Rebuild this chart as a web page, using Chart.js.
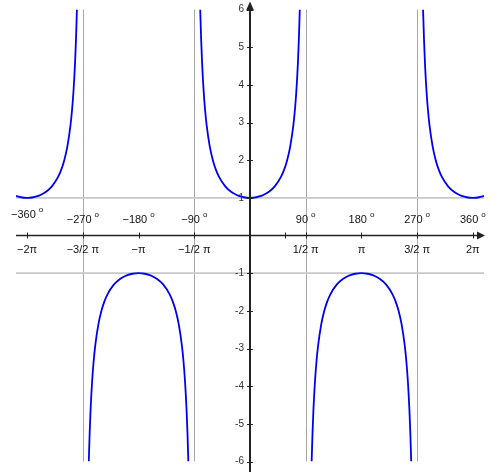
<!DOCTYPE html>
<html>
<head>
<meta charset="utf-8">
<script src="https://cdn.jsdelivr.net/npm/chart.js@4.4.1/dist/chart.umd.min.js"></script>
<style>
  html, body { margin: 0; padding: 0; background: #fff; }
</style>
</head>
<body>
<canvas id="chart" width="500" height="472"></canvas>
<script>
// Etiquetas del eje x (en grados y en múltiplos de pi)
const tickDegrees = [-360, -270, -180, -90, 90, 180, 270, 360];
const degreeLabels = ['−360', '−270', '−180', '−90', '90', '180', '270', '360'];
const piLabels = ['−2π', '−3/2 π', '−π', '−1/2 π', '1/2 π', 'π', '3/2 π', '2π'];
const radianTicks = [57.3];
const yTicks = [6, 5, 4, 3, 2, 1, -1, -2, -3, -4, -5, -6];
const asymptotes = [-270, -90, 90, 270];
const levelLines = [1, -1];

// Media rama de la secante: distancia al centro (grados) -> valor
const branchOffsets = [0, 10, 18, 20, 30, 40, 50, 55, 60, 65, 70, 72.5, 75, 77.5, 79, 80.41];
const branchValues = [1, 1.0154, 1.0515, 1.0642, 1.1547, 1.3054, 1.5557, 1.7434, 2, 2.3662, 2.9238, 3.3255, 3.8637, 4.6202, 5.2408, 6];
const branchCenters = [-360, -180, 0, 180, 360];
const branchSigns = [1, -1, 1, -1, 1];
const xLimit = 378;

// Construir cada rama a partir de los valores leídos
const datasets = branchCenters.map(function(c, i) {
    const pts = [];
    for (let k = branchOffsets.length - 1; k >= 0; k--) {
        if (c - branchOffsets[k] < -xLimit - 0.01) continue;
        pts.push({ x: c - branchOffsets[k], y: branchSigns[i] * branchValues[k] });
    }
    for (let k = 1; k < branchOffsets.length; k++) {
        if (c + branchOffsets[k] > xLimit + 0.01) continue;
        pts.push({ x: c + branchOffsets[k], y: branchSigns[i] * branchValues[k] });
    }
    return {
        data: pts,
        borderColor: '#0000ee',
        borderWidth: 1.8,
        pointRadius: 0,
        cubicInterpolationMode: 'monotone',
        fill: false
    };
});

const axesPlugin = {
    id: 'ejes',
    beforeDatasetsDraw(chart) {
        const ctx = chart.ctx, a = chart.chartArea;
        const xs = chart.scales.x, ys = chart.scales.y;
        ctx.save();
        ctx.strokeStyle = '#a8a8a8';
        ctx.lineWidth = 1;
        asymptotes.forEach(function(d) {
            const px = Math.round(xs.getPixelForValue(d)) + 0.5;
            ctx.beginPath(); ctx.moveTo(px, a.top); ctx.lineTo(px, a.bottom); ctx.stroke();
        });
        ctx.strokeStyle = '#c8c8c8';
        ctx.lineWidth = 1.6;
        levelLines.forEach(function(v) {
            const py = ys.getPixelForValue(v);
            ctx.beginPath(); ctx.moveTo(a.left, py); ctx.lineTo(a.right, py); ctx.stroke();
        });
        ctx.restore();
    },
    afterDatasetsDraw(chart) {
        const ctx = chart.ctx, a = chart.chartArea;
        const xs = chart.scales.x, ys = chart.scales.y;
        const x0 = xs.getPixelForValue(0), y0 = ys.getPixelForValue(0);
        ctx.save();
        ctx.strokeStyle = '#222';
        ctx.fillStyle = '#222';
        ctx.lineWidth = 1.6;
        // eje x con flecha
        ctx.beginPath(); ctx.moveTo(a.left, y0); ctx.lineTo(a.right - 6, y0); ctx.stroke();
        ctx.beginPath();
        ctx.moveTo(a.right + 1, y0); ctx.lineTo(a.right - 7, y0 - 4); ctx.lineTo(a.right - 7, y0 + 4);
        ctx.closePath(); ctx.fill();
        // eje y con flecha
        ctx.lineWidth = 2;
        ctx.beginPath(); ctx.moveTo(x0, 472); ctx.lineTo(x0, a.top); ctx.stroke();
        ctx.beginPath();
        ctx.moveTo(x0, a.top - 8); ctx.lineTo(x0 - 4, a.top + 1); ctx.lineTo(x0 + 4, a.top + 1);
        ctx.closePath(); ctx.fill();
        // marcas
        ctx.lineWidth = 1;
        tickDegrees.concat(radianTicks).forEach(function(d) {
            const px = Math.round(xs.getPixelForValue(d)) + 0.5;
            ctx.beginPath(); ctx.moveTo(px, y0 - 3); ctx.lineTo(px, y0 + 3); ctx.stroke();
        });
        yTicks.forEach(function(v) {
            const py = Math.round(ys.getPixelForValue(v)) + 0.5;
            ctx.beginPath(); ctx.moveTo(x0 - 3, py); ctx.lineTo(x0 + 3, py); ctx.stroke();
        });
        // etiquetas y
        ctx.fillStyle = '#333';
        ctx.font = '10px "Liberation Sans", Arial, sans-serif';
        ctx.textAlign = 'right';
        ctx.textBaseline = 'middle';
        yTicks.forEach(function(v) {
            ctx.fillText(String(v), x0 - 6, ys.getPixelForValue(v));
        });
        // etiquetas x
        ctx.fillStyle = '#111';
        ctx.textAlign = 'left';
        tickDegrees.forEach(function(d, i) {
            const px = xs.getPixelForValue(d);
            const ty = d === -360 ? 215 : 220;
            ctx.font = '11px "Liberation Sans", Arial, sans-serif';
            const w1 = ctx.measureText(degreeLabels[i]).width;
            ctx.font = '8px "Liberation Sans", Arial, sans-serif';
            const w2 = ctx.measureText('o').width;
            const start = px - (w1 + 3 + w2) / 2;
            ctx.font = '11px "Liberation Sans", Arial, sans-serif';
            ctx.fillText(degreeLabels[i], start, ty);
            ctx.font = '8px "Liberation Sans", Arial, sans-serif';
            ctx.fillText('o', start + w1 + 3, ty - 5);
        });
        ctx.font = '11px "Liberation Sans", Arial, sans-serif';
        ctx.textAlign = 'center';
        tickDegrees.forEach(function(d, i) {
            ctx.fillText(piLabels[i], xs.getPixelForValue(d), 250);
        });
        ctx.restore();
    }
};

new Chart(document.getElementById('chart'), {
    type: 'line',
    data: { datasets: datasets },
    options: {
        responsive: false,
        animation: false,
        devicePixelRatio: 1,
        layout: { padding: { left: 16, right: 16, top: 9.5, bottom: 10.5 } },
        plugins: { legend: { display: false }, tooltip: { enabled: false } },
        scales: {
            x: { type: 'linear', min: -xLimit, max: xLimit, display: false },
            y: { min: -6, max: 6, display: false }
        }
    },
    plugins: [axesPlugin]
});
</script>
</body>
</html>
